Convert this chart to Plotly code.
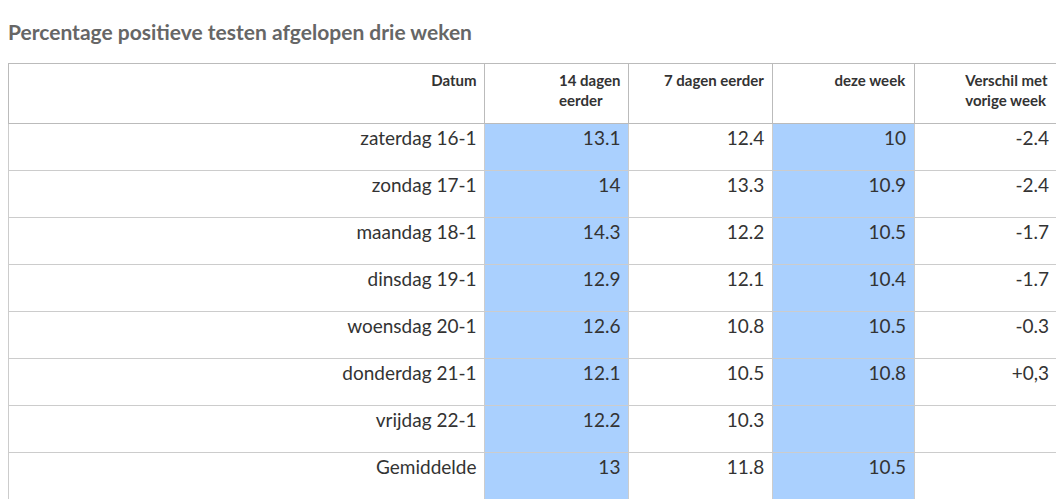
import plotly.graph_objects as go

# table data
datum = ["zaterdag 16-1", "zondag 17-1", "maandag 18-1", "dinsdag 19-1",
         "woensdag 20-1", "donderdag 21-1", "vrijdag 22-1", "Gemiddelde"]
dagen14 = ["13.1", "14", "14.3", "12.9", "12.6", "12.1", "12.2", "13"]
dagen7 = ["12.4", "13.3", "12.2", "12.1", "10.8", "10.5", "10.3", "11.8"]
deze_week = ["10", "10.9", "10.5", "10.4", "10.5", "10.8", "", "10.5"]
verschil = ["-2.4", "-2.4", "-1.7", "-1.7", "-0.3", "+0,3", "", ""]

headers = ["<br><b>Datum</b>", "<b>14 dagen<br>eerder</b>", "<br><b>7 dagen eerder</b>",
           "<br><b>deze week</b>", "<b>Verschil met<br>vorige week</b>"]

blue = "#aad0fe"
n = len(datum)
fill = [["white"] * n, [blue] * n, ["white"] * n, [blue] * n, ["white"] * n]

W, H = 1064, 499

fig = go.Figure(go.Table(
    columnwidth=[477, 144, 144, 142, 143],
    header=dict(
        values=headers,
        align="right",
        height=60,
        fill_color="white",
        line_color="#bbbbbb",
        font=dict(family="Lato", size=15, color="#333333"),
    ),
    cells=dict(
        values=[datum, dagen14, dagen7, deze_week, verschil],
        align="right",
        height=47,
        fill_color=fill,
        line_color="#cccccc",
        font=dict(family="Lato", size=19, color="#333333"),
    ),
    domain=dict(x=[0, 1049 / W], y=[0, 1 - 55 / H]),
))

fig.update_layout(
    width=W, height=H,
    margin=dict(l=0, r=0, t=0, b=0),
    paper_bgcolor="white",
    title=dict(text="<b>Percentage positieve testen afgelopen drie weken</b>",
               x=0, xanchor="left", y=1 - 25 / H, yanchor="middle",
               font=dict(family="Lato", size=21, color="#666666")),
)

fig.write_html("out.html")
